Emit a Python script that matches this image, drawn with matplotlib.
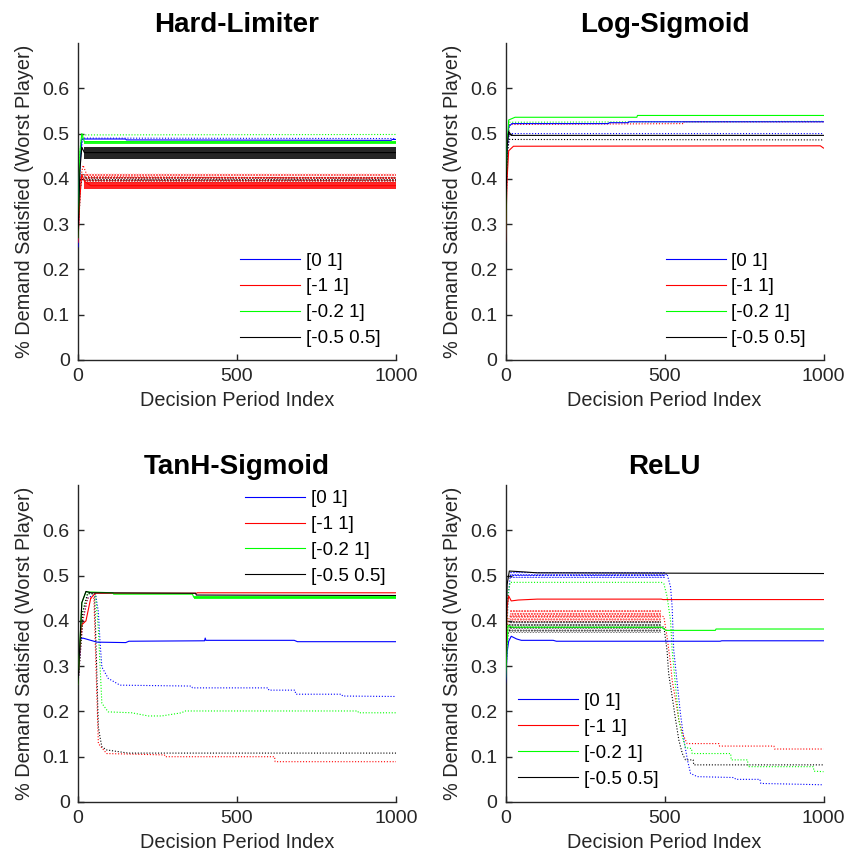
import numpy as np
import matplotlib
matplotlib.use("Agg")
import matplotlib.pyplot as plt
from matplotlib.lines import Line2D

plt.rcParams['font.family'] = ['Liberation Sans', 'DejaVu Sans']
plt.rcParams['hatch.linewidth'] = 1.0

# ---------------------------------------------------------------- labels
titles = ["Hard-Limiter", "Log-Sigmoid", "TanH-Sigmoid", "ReLU"]
range_labels = ["[0 1]", "[-1 1]", "[-0.2 1]", "[-0.5 0.5]"]
line_colors = ["#0000ff", "#ff0000", "#00ff00", "#000000"]
x_label = "Decision Period Index"
y_label = "% Demand Satisfied (Worst Player)"
x_ticks = [0, 500, 1000]
y_ticks = [0, 0.1, 0.2, 0.3, 0.4, 0.5, 0.6]
y_tick_labels = ["0", "0.1", "0.2", "0.3", "0.4", "0.5", "0.6"]

# ---------------------------------------------------------------- Hard-Limiter
# (period, value) knots; order: [0 1], [-1 1], [-0.2 1], [-0.5 0.5]
hl_solid_blue = [(0, 0.25), (5, 0.42), (12, 0.488), (150, 0.488), (152, 0.486), (985, 0.485), (988, 0.487), (1000, 0.487)]
hl_solid_red = [(0, 0.26), (6, 0.36), (12, 0.41), (20, 0.395), (40, 0.385), (1000, 0.385)]
hl_solid_green = [(0, 0.27), (6, 0.46), (12, 0.50), (20, 0.482), (1000, 0.481)]
hl_solid_black = [(0, 0.27), (6, 0.42), (12, 0.47), (20, 0.458), (1000, 0.458)]
hl_dotted_blue = [(0, 0.27), (8, 0.45), (15, 0.49), (1000, 0.489)]
hl_dotted_red = [(0, 0.28), (8, 0.40), (16, 0.43), (30, 0.405), (1000, 0.401)]
hl_dotted_green = [(0, 0.28), (8, 0.48), (15, 0.497), (1000, 0.498)]
hl_dotted_black = [(0, 0.27), (8, 0.38), (15, 0.41), (30, 0.398), (1000, 0.398)]
# fluctuation envelopes (period, low, high)
hl_band_solid_red = [(20, 0.377, 0.393), (1000, 0.377, 0.393)]
hl_band_solid_black = [(20, 0.443, 0.471), (1000, 0.443, 0.471)]
hl_band_solid_green = [(20, 0.478, 0.484), (1000, 0.478, 0.484)]
hl_band_dotted_red = [(20, 0.390, 0.414), (1000, 0.390, 0.414)]
hl_band_dotted_black = [(20, 0.392, 0.405), (1000, 0.392, 0.405)]

# ---------------------------------------------------------------- Log-Sigmoid
ls_solid_blue = [(0, 0.27), (4, 0.45), (10, 0.515), (20, 0.522), (324, 0.522), (326, 0.524), (386, 0.524), (388, 0.526), (1000, 0.526)]
ls_solid_red = [(0, 0.26), (5, 0.40), (10, 0.462), (25, 0.472), (990, 0.473), (1000, 0.468)]
ls_solid_green = [(0, 0.27), (4, 0.46), (10, 0.530), (30, 0.536), (413, 0.536), (415, 0.540), (1000, 0.540)]
ls_solid_black = [(0, 0.27), (5, 0.47), (10, 0.505), (18, 0.496), (1000, 0.496)]
ls_dotted_blue = [(0, 0.27), (5, 0.45), (12, 0.500), (1000, 0.500)]
ls_dotted_red = [(0, 0.27), (5, 0.45), (12, 0.520), (560, 0.522), (562, 0.526), (1000, 0.526)]
ls_dotted_green = [(0, 0.27), (5, 0.47), (12, 0.525), (1000, 0.527)]
ls_dotted_black = [(0, 0.27), (6, 0.46), (12, 0.487), (1000, 0.486)]

# ---------------------------------------------------------------- TanH-Sigmoid
th_solid_blue = [(0, 0.26), (8, 0.36), (15, 0.362), (40, 0.357), (60, 0.353), (150, 0.352), (160, 0.355), (398, 0.356), (400, 0.362), (402, 0.357), (680, 0.357), (690, 0.354), (1000, 0.354)]
th_solid_red = [(0, 0.26), (10, 0.39), (25, 0.40), (40, 0.45), (55, 0.461), (373, 0.461), (375, 0.462), (1000, 0.462)]
th_solid_green = [(0, 0.26), (12, 0.44), (25, 0.464), (110, 0.462), (112, 0.459), (360, 0.459), (364, 0.452), (1000, 0.452)]
th_solid_black = [(0, 0.26), (12, 0.44), (25, 0.465), (40, 0.462), (370, 0.461), (372, 0.457), (1000, 0.456)]
th_dotted_blue = [(0, 0.26), (15, 0.40), (30, 0.45), (55, 0.46), (64, 0.42), (69, 0.357), (75, 0.298), (95, 0.273), (132, 0.258), (357, 0.256), (360, 0.252), (598, 0.252), (600, 0.247), (682, 0.247), (685, 0.238), (829, 0.238), (832, 0.234), (1000, 0.233)]
th_dotted_red = [(0, 0.26), (15, 0.40), (30, 0.45), (50, 0.45), (64, 0.129), (90, 0.107), (272, 0.104), (274, 0.100), (618, 0.100), (620, 0.089), (1000, 0.089)]
th_dotted_green = [(0, 0.26), (15, 0.42), (30, 0.46), (55, 0.46), (64, 0.38), (75, 0.218), (95, 0.199), (169, 0.197), (221, 0.190), (263, 0.190), (326, 0.197), (336, 0.201), (880, 0.201), (882, 0.197), (1000, 0.197)]
th_dotted_black = [(0, 0.26), (15, 0.42), (30, 0.46), (52, 0.46), (64, 0.166), (69, 0.144), (75, 0.122), (90, 0.115), (158, 0.108), (1000, 0.108)]
th_band_solid_green = [(364, 0.449, 0.455), (1000, 0.449, 0.455)]

# ---------------------------------------------------------------- ReLU
re_solid_blue = [(0, 0.26), (5, 0.33), (10, 0.355), (18, 0.366), (35, 0.360), (50, 0.357), (150, 0.357), (160, 0.355), (675, 0.355), (680, 0.356), (1000, 0.356)]
re_solid_red = [(0, 0.28), (5, 0.43), (10, 0.455), (18, 0.444), (40, 0.446), (100, 0.448), (490, 0.448), (495, 0.447), (1000, 0.447)]
re_solid_green = [(0, 0.27), (8, 0.39), (20, 0.386), (490, 0.386), (505, 0.379), (660, 0.379), (662, 0.382), (1000, 0.382)]
re_solid_black = [(0, 0.28), (5, 0.48), (12, 0.510), (60, 0.508), (100, 0.506), (1000, 0.5045)]
re_dotted_blue = [(0, 0.27), (8, 0.45), (15, 0.500), (500, 0.500), (508, 0.504), (519, 0.475), (524, 0.431), (529, 0.335), (540, 0.262), (550, 0.196), (561, 0.137), (572, 0.093), (582, 0.063), (603, 0.056), (719, 0.054), (724, 0.050), (800, 0.050), (803, 0.041), (1000, 0.038)]
re_dotted_red = [(0, 0.27), (8, 0.40), (15, 0.411), (490, 0.411), (498, 0.409), (508, 0.365), (519, 0.306), (524, 0.269), (535, 0.225), (545, 0.181), (556, 0.152), (566, 0.137), (571, 0.129), (671, 0.129), (673, 0.1235), (844, 0.1235), (846, 0.117), (1000, 0.117)]
re_dotted_green = [(0, 0.27), (8, 0.46), (15, 0.485), (490, 0.485), (498, 0.482), (508, 0.454), (519, 0.401), (524, 0.335), (535, 0.254), (545, 0.181), (556, 0.144), (566, 0.120), (585, 0.118), (587, 0.107), (708, 0.107), (710, 0.093), (761, 0.093), (763, 0.078), (968, 0.078), (970, 0.068), (1000, 0.067)]
re_dotted_black = [(0, 0.27), (8, 0.37), (15, 0.386), (490, 0.386), (498, 0.387), (508, 0.335), (513, 0.284), (524, 0.233), (535, 0.181), (545, 0.137), (556, 0.107), (566, 0.093), (590, 0.093), (592, 0.082), (1000, 0.082)]
re_band_dotted_blue = [(15, 0.494, 0.507), (500, 0.494, 0.507)]
re_band_dotted_red = [(15, 0.398, 0.424), (490, 0.398, 0.424)]
re_band_dotted_black = [(12, 0.373, 0.399), (490, 0.373, 0.399)]


def knots(seq):
    arr = np.asarray(seq, dtype=float)
    return arr[:, 0], arr[:, 1]


def envelope(seq):
    arr = np.asarray(seq, dtype=float)
    return arr[:, 0], arr[:, 1], arr[:, 2]


panels = [
    dict(solid=[hl_solid_blue, hl_solid_red, hl_solid_green, hl_solid_black],
         dotted=[hl_dotted_blue, hl_dotted_red, hl_dotted_green, hl_dotted_black],
         bands_dotted=[(hl_band_dotted_black, 3), (hl_band_dotted_red, 1)],
         bands_solid=[(hl_band_solid_black, 3), (hl_band_solid_red, 1), (hl_band_solid_green, 2)],
         legend=dict(loc="lower left", bbox_to_anchor=(0.4987, 0.028))),
    dict(solid=[ls_solid_blue, ls_solid_red, ls_solid_green, ls_solid_black],
         dotted=[ls_dotted_blue, ls_dotted_red, ls_dotted_green, ls_dotted_black],
         bands_dotted=[], bands_solid=[],
         legend=dict(loc="lower left", bbox_to_anchor=(0.4924, 0.028))),
    dict(solid=[th_solid_blue, th_solid_red, th_solid_green, th_solid_black],
         dotted=[th_dotted_blue, th_dotted_red, th_dotted_green, th_dotted_black],
         bands_dotted=[], bands_solid=[(th_band_solid_green, 2)],
         legend=dict(loc="upper left", bbox_to_anchor=(0.5145, 0.996))),
    dict(solid=[re_solid_blue, re_solid_red, re_solid_green, re_solid_black],
         dotted=[re_dotted_blue, re_dotted_red, re_dotted_green, re_dotted_black],
         bands_dotted=[(re_band_dotted_blue, 0), (re_band_dotted_red, 1), (re_band_dotted_black, 3)],
         bands_solid=[],
         legend=dict(loc="lower left", bbox_to_anchor=(0.0287, 0.033))),
]

W, H = 849, 865
fig = plt.figure(figsize=(W / 100, H / 100), dpi=100)
ax_boxes = [(78, 360), (505.5, 360), (78, 802), (505.5, 802)]  # pixel origin of each axes
ax_w, ax_h = 318, 317

ink = "#262626"
lw = 0.8
dot_style = (0, (1.0, 1.6))

for idx, (panel, (px, py)) in enumerate(zip(panels, ax_boxes)):
    ax = fig.add_axes([px / W, (H - py) / H, ax_w / W, ax_h / H])

    for band, ci in panel["bands_dotted"]:
        bx, lo, hi = envelope(band)
        ax.fill_between(bx, lo, hi, facecolor="none", edgecolor=line_colors[ci],
                        hatch="......", linewidth=0, alpha=0.9, zorder=1)

    for series, col in zip(panel["dotted"], line_colors):
        x, y = knots(series)
        ax.plot(x, y, color=col, lw=lw, linestyle=dot_style, zorder=2)

    for band, ci in panel["bands_solid"]:
        bx, lo, hi = envelope(band)
        ax.fill_between(bx, lo, hi, color=line_colors[ci], linewidth=0, alpha=0.85, zorder=3)

    for series, col, lab in zip(panel["solid"], line_colors, range_labels):
        x, y = knots(series)
        ax.plot(x, y, color=col, lw=lw, zorder=4, label=lab)

    ax.set_xlim(0, 1000)
    ax.set_ylim(0, 0.7)
    ax.set_xticks(x_ticks)
    ax.set_yticks(y_ticks)
    ax.set_yticklabels(y_tick_labels)
    for s in ("top", "right"):
        ax.spines[s].set_visible(False)
    for s in ("left", "bottom"):
        ax.spines[s].set_color(ink)
        ax.spines[s].set_linewidth(1.0)
    ax.tick_params(direction="in", length=4, width=1.0, colors=ink,
                   labelsize=14, pad=6)
    ax.set_xlabel(x_label, fontsize=14.3, color=ink, labelpad=4)
    ax.set_ylabel(y_label, fontsize=14.3, color=ink, labelpad=6)
    ax.set_title(titles[idx], fontsize=20, fontweight="bold", pad=8)

    leg_handles = [Line2D([0], [0], color=c, lw=lw) for c in line_colors]
    ax.legend(leg_handles, range_labels, frameon=False, fontsize=13.5,
              handlelength=3.2, handletextpad=0.3, labelspacing=0.47,
              borderaxespad=0, borderpad=0.2, **panel["legend"])

fig.savefig("out.png", dpi=100)
